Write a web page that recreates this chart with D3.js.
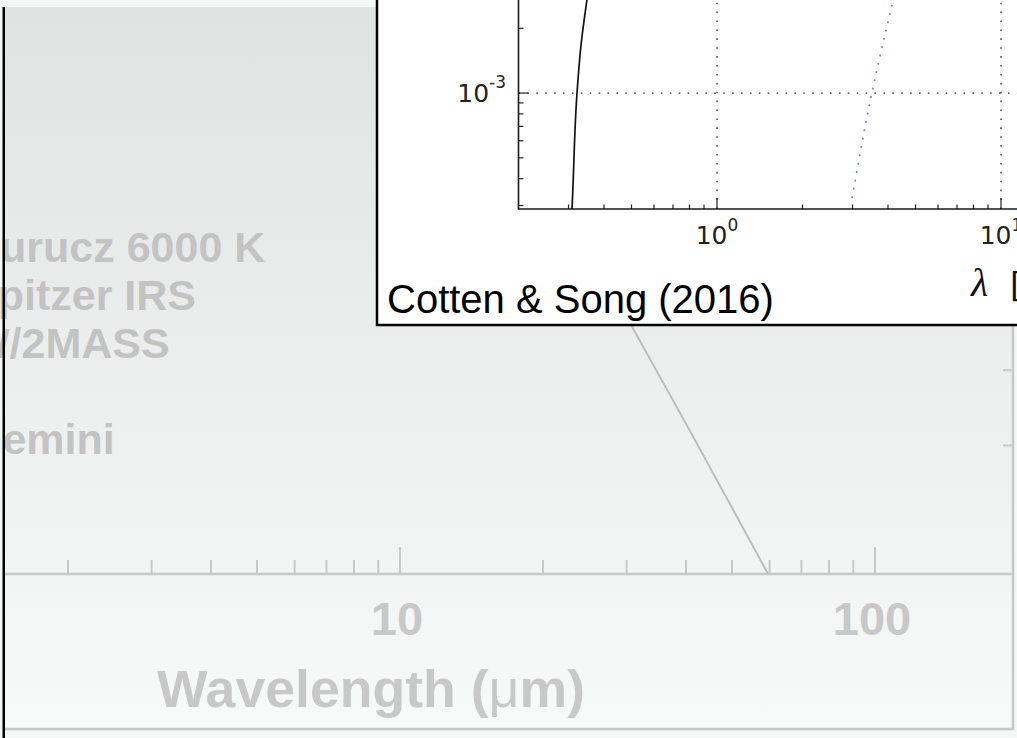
<!DOCTYPE html>
<html>
<head>
<meta charset="utf-8">
<script src="https://cdn.jsdelivr.net/npm/d3@7"></script>
<style>
  body { margin: 0; background: #f5f7f7; overflow: hidden; }
  svg { display: block; }
</style>
</head>
<body>
<div id="chart"></div>
<script>
// background SED (faded slide, cut at the left edge)
const legendLabels = ["Kurucz 6000 K", "Spitzer IRS", "W/2MASS", "", "Gemini"];
const mainXTicks = [10, 100];
const mainXTickLabels = ["10", "100"];
const mainYTicks = [2, 3];
// Rayleigh-Jeans tail of the model (wavelength in um, flux in arbitrary units)
const rjWave = [20, 30, 40, 50, 60];
const rjFlux = [9.2, 4.0, 2.25, 1.43, 0.985];

// inset (Cotten & Song 2016)
const insetXTicks = [1, 10];
const insetXTickLabels = [["10", "0"], ["10", "1"]];
const insetYTicks = [1e-3];
const insetYTickLabels = [["10", "-3"]];
const starWave = [0.300, 0.3086, 0.3214, 0.332, 0.3483, 0.37];
const starFlux = [1.5e-4, 2.9e-4, 1.0e-3, 1.67e-3, 2.71e-3, 4.6e-3];
const diskWave = [2.99, 3.51, 4.10, 4.35];
const diskFlux = [3.25e-4, 1.0e-3, 2.46e-3, 3.4e-3];

const width = 1017;
const height = 738;

const svg = d3.select("#chart")
  .append("svg")
  .attr("width", width)
  .attr("height", height);

const defs = svg.append("defs");
const grad = defs.append("linearGradient")
  .attr("id", "bg")
  .attr("x1", 0).attr("y1", 0).attr("x2", 0).attr("y2", 1);
grad.append("stop").attr("offset", "0%").attr("stop-color", "#e1e2e2");
grad.append("stop").attr("offset", "100%").attr("stop-color", "#f8f9f9");

defs.append("clipPath").attr("id", "mainClip")
  .append("rect").attr("x", 4).attr("y", 7).attr("width", 1009).attr("height", 567);
defs.append("clipPath").attr("id", "insetClip")
  .append("rect").attr("x", 518.5).attr("y", -200).attr("width", 700).attr("height", 409);

// ---------- background chart ----------
svg.append("rect")
  .attr("x", 4).attr("y", 7)
  .attr("width", 1009).attr("height", 722)
  .attr("fill", "url(#bg)");

const faded = "#c8c8c8";
const sans = "'Liberation Sans', Arial, Helvetica, sans-serif";

const mainX = d3.scaleLog().domain([1, 1000]).range([400 - 475, 400 + 2 * 475]);
const mainY = d3.scaleLog().domain([1, 10]).range([574, 147]);

const mainG = svg.append("g");

// frame
mainG.append("line")
  .attr("x1", 4).attr("x2", 1013).attr("y1", 729).attr("y2", 729)
  .attr("stroke", faded).attr("stroke-width", 2.5);
mainG.append("line")
  .attr("x1", 1013).attr("x2", 1013).attr("y1", 7).attr("y2", 730)
  .attr("stroke", faded).attr("stroke-width", 2.5);

// x axis
mainG.append("line")
  .attr("x1", 4).attr("x2", 1013).attr("y1", 574).attr("y2", 574)
  .attr("stroke", faded).attr("stroke-width", 2.5);

const mainMinor = mainX.ticks().filter((d) => mainX(d) > 5 && mainX(d) < 1012);
mainG.selectAll(".mtick")
  .data(mainMinor)
  .join("line")
  .attr("class", "mtick")
  .attr("x1", (d) => mainX(d)).attr("x2", (d) => mainX(d))
  .attr("y1", 574)
  .attr("y2", (d) => (mainXTicks.includes(d) ? 547 : 560))
  .attr("stroke", faded).attr("stroke-width", 2);

mainG.selectAll(".mylab")
  .data(mainXTicks)
  .join("text")
  .attr("class", "mylab")
  .attr("x", (d) => mainX(d) - 3)
  .attr("y", 635)
  .attr("text-anchor", "middle")
  .style("font-family", sans)
  .style("font-weight", "bold")
  .style("font-size", "47px")
  .attr("fill", faded)
  .text((d, i) => mainXTickLabels[i]);

const title = mainG.append("text")
  .attr("x", 157).attr("y", 707)
  .attr("textLength", 428)
  .attr("lengthAdjust", "spacingAndGlyphs")
  .style("font-family", sans)
  .style("font-weight", "bold")
  .style("font-size", "51px")
  .attr("fill", faded);
title.append("tspan").text("Wavelength (");
title.append("tspan").style("font-weight", "normal").text("\u03bc");
title.append("tspan").text("m)");

// right y ticks
mainG.selectAll(".ytick")
  .data(mainYTicks)
  .join("line")
  .attr("class", "ytick")
  .attr("x1", 1003).attr("x2", 1013)
  .attr("y1", (d) => mainY(d)).attr("y2", (d) => mainY(d))
  .attr("stroke", faded).attr("stroke-width", 2);

// model line
const rjData = rjWave.map((d, i) => [d, rjFlux[i]]);
mainG.append("path")
  .datum(rjData)
  .attr("clip-path", "url(#mainClip)")
  .attr("fill", "none")
  .attr("stroke", "#bdbdbd")
  .attr("stroke-width", 2)
  .attr("d", d3.line().x((d) => mainX(d[0])).y((d) => mainY(d[1])));

// legend
mainG.selectAll(".leg")
  .data(legendLabels)
  .join("text")
  .attr("class", "leg")
  .attr("x", -31)
  .attr("y", (d, i) => 262 + i * 48)
  .style("font-family", sans)
  .style("font-weight", "bold")
  .style("font-size", "43px")
  .attr("fill", "#c3c3c3")
  .text((d) => d);

// left dark edge
svg.append("rect")
  .attr("x", 2.5).attr("y", 7)
  .attr("width", 2.5).attr("height", height - 7)
  .attr("fill", "#000");

// ---------- inset ----------
const inset = svg.append("g");

inset.append("rect")
  .attr("x", 377).attr("y", -20)
  .attr("width", 700).attr("height", 345)
  .attr("fill", "#fff")
  .attr("stroke", "#000")
  .attr("stroke-width", 2.5);

const insetX = d3.scaleLog().domain([0.2, 20]).range([518.5, 1086.5]);
const insetY = d3.scaleLog().domain([2.89e-4, 1e-2]).range([209, -122]);

// grid
inset.selectAll(".vgrid")
  .data(insetXTicks)
  .join("line")
  .attr("class", "vgrid")
  .attr("x1", (d) => insetX(d)).attr("x2", (d) => insetX(d))
  .attr("y1", 209).attr("y2", -10)
  .attr("stroke", "#333").attr("stroke-width", 1.3)
  .attr("stroke-dasharray", "1.6,7.3");
inset.selectAll(".hgrid")
  .data(insetYTicks)
  .join("line")
  .attr("class", "hgrid")
  .attr("x1", 518.5).attr("x2", 1030)
  .attr("y1", (d) => insetY(d)).attr("y2", (d) => insetY(d))
  .attr("stroke", "#333").attr("stroke-width", 1.3)
  .attr("stroke-dasharray", "1.6,7.3");

// curves
const line = d3.line()
  .x((d) => insetX(d[0]))
  .y((d) => insetY(d[1]))
  .curve(d3.curveMonotoneY);

inset.append("path")
  .datum(starWave.map((d, i) => [d, starFlux[i]]))
  .attr("clip-path", "url(#insetClip)")
  .attr("fill", "none")
  .attr("stroke", "#111")
  .attr("stroke-width", 1.7)
  .attr("d", line);

inset.append("path")
  .datum(diskWave.map((d, i) => [d, diskFlux[i]]))
  .attr("clip-path", "url(#insetClip)")
  .attr("fill", "none")
  .attr("stroke", "#7384d6")
  .attr("stroke-width", 1.7)
  .attr("stroke-dasharray", "1.8,6.7")
  .attr("d", line);

// ticks (inward)
const xt = insetX.ticks().filter((d) => insetX(d) > 519 && insetX(d) < 1020);
inset.selectAll(".ixt")
  .data(xt)
  .join("line")
  .attr("class", "ixt")
  .attr("x1", (d) => insetX(d)).attr("x2", (d) => insetX(d))
  .attr("y1", 209)
  .attr("y2", (d) => (insetXTicks.includes(d) ? 198 : 204.5))
  .attr("stroke", "#222").attr("stroke-width", 1.2);

const yt = insetY.ticks().filter((d) => insetY(d) < 208 && insetY(d) > -5);
inset.selectAll(".iyt")
  .data(yt)
  .join("line")
  .attr("class", "iyt")
  .attr("y1", (d) => insetY(d)).attr("y2", (d) => insetY(d))
  .attr("x1", 518.5)
  .attr("x2", (d) => (insetYTicks.includes(d) ? 528 : 523.5))
  .attr("stroke", "#222").attr("stroke-width", 1.2);

// spines
inset.append("path")
  .attr("d", "M518.5,-10V209H1030")
  .attr("fill", "none")
  .attr("stroke", "#1a1a1a")
  .attr("stroke-width", 1.6);

// tick labels
const xl = inset.selectAll(".ixl")
  .data(insetXTicks)
  .join("text")
  .attr("class", "ixl")
  .attr("x", (d) => insetX(d))
  .attr("y", 244)
  .attr("text-anchor", "middle")
  .style("font-family", "'DejaVu Sans', sans-serif")
  .style("font-size", "25px")
  .attr("fill", "#222");
xl.append("tspan").text((d, i) => insetXTickLabels[i][0]);
xl.append("tspan").attr("dy", -13).style("font-size", "17px").text((d, i) => insetXTickLabels[i][1]);

const yl = inset.selectAll(".iyl")
  .data(insetYTicks)
  .join("text")
  .attr("class", "iyl")
  .attr("x", 506)
  .attr("y", (d) => insetY(d) + 9)
  .attr("text-anchor", "end")
  .style("font-family", "'DejaVu Sans', sans-serif")
  .style("font-size", "25px")
  .attr("fill", "#222");
yl.append("tspan").text((d, i) => insetYTickLabels[i][0]);
yl.append("tspan").attr("dy", -14).style("font-size", "17px").text((d, i) => insetYTickLabels[i][1]);

// axis label (cut at the right edge)
inset.append("text")
  .attr("x", 971).attr("y", 296)
  .style("font-family", "'Liberation Serif', 'DejaVu Serif', serif")
  .style("font-style", "italic")
  .style("font-size", "40px")
  .attr("fill", "#111")
  .text("\u03bb");
inset.append("text")
  .attr("x", 1010).attr("y", 297)
  .style("font-family", "'DejaVu Sans', sans-serif")
  .style("font-size", "33px")
  .attr("fill", "#111")
  .text("[\u03bcm]");

inset.append("text")
  .attr("x", 387).attr("y", 313)
  .style("font-family", sans)
  .style("font-size", "40px")
  .attr("fill", "#000")
  .text("Cotten & Song (2016)");
</script>
</body>
</html>
